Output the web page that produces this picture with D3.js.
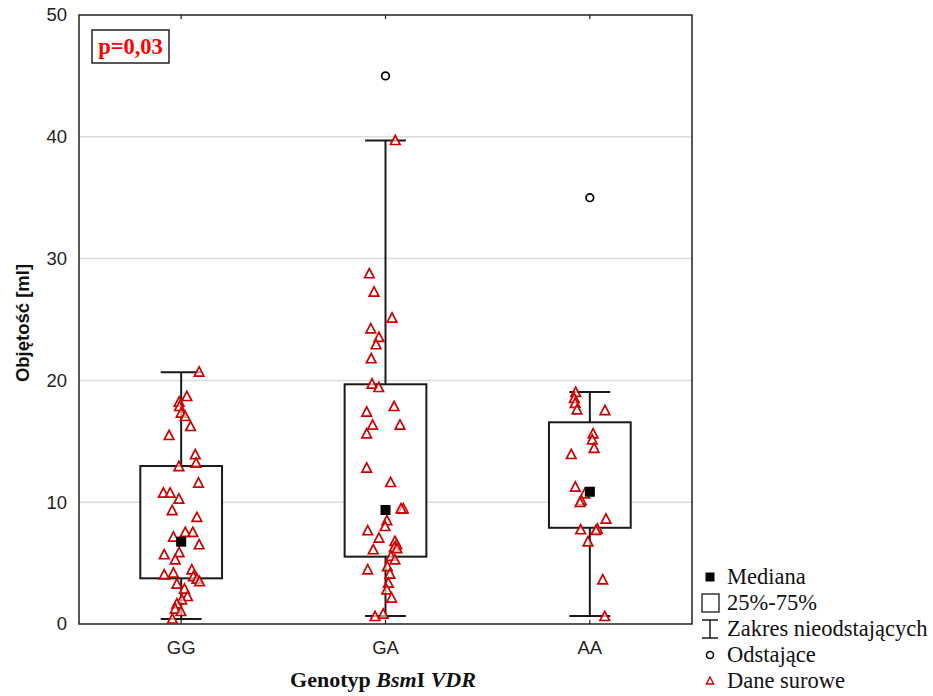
<!DOCTYPE html>
<html>
<head>
<meta charset="utf-8">
<script src="https://cdn.jsdelivr.net/npm/d3@7"></script>
<style>
  html, body { margin: 0; padding: 0; background: #fff; }
  svg { display: block; }
</style>
</head>
<body>
<svg id="chart" width="933" height="696"></svg>
<script>
// Genotype groups
const categories = ["GG", "GA", "AA"];

// Box statistics per genotype (volume, ml)
const whiskerLow  = [0.41, 0.66, 0.66];
const q1          = [3.75, 5.53, 7.90];
const medians     = [6.76, 9.36, 10.86];
const q3          = [12.97, 19.68, 16.56];
const whiskerHigh = [20.67, 39.70, 19.05];
const outliers    = [[], [45.0], [35.0]];

// Raw observations per genotype
const rawGG = [20.66, 18.66, 18.2, 17.84, 17.3, 17.02, 16.2, 15.46, 13.88, 13.19, 12.91, 11.55,
  10.73, 10.73, 10.24, 9.30, 8.73, 7.5, 7.5, 7.12, 6.49, 5.85, 5.67, 5.25, 4.43, 4.16, 4.02,
  3.88, 3.67, 3.47, 3.26, 2.85, 2.24, 1.97, 1.64, 1.21, 1.01, 0.39];
const rawGA = [39.68, 28.74, 27.23, 25.1, 24.22, 23.51, 22.91, 21.76, 19.68, 19.4, 17.84, 17.38,
  16.31, 16.31, 15.6, 12.78, 11.6, 9.44, 9.44, 8.46, 7.99, 7.64, 7.04, 6.76, 6.49, 6.26, 6.16,
  6.08, 5.53, 5.25, 4.7, 4.43, 4.08, 3.34, 2.79, 2.11, 0.8, 0.6];
const rawAA = [19.0, 18.5, 18.1, 17.57, 17.51, 15.6, 15.1, 14.4, 13.9, 11.22, 10.67, 10.12,
  9.96, 8.6, 7.72, 7.77, 7.66, 6.73, 3.61, 0.6];

// Horizontal jitter of each raw point, as a fraction of the category band
const jitterGG = [0.088, 0.028, -0.010, -0.008, 0.000, 0.020, 0.046, -0.059, 0.069, 0.073, -0.011, 0.085,
  -0.087, -0.054, -0.011, -0.044, 0.077, 0.020, 0.057, -0.038, 0.088, -0.010, -0.083, -0.029, 0.052, -0.038, -0.083,
  0.060, 0.077, 0.090, -0.021, 0.016, 0.031, 0.003, -0.021, -0.029, -0.001, -0.043];
const jitterGA = [0.048, -0.079, -0.056, 0.032, -0.072, -0.032, -0.046, -0.070, -0.066, -0.033, 0.042, -0.092,
  -0.063, 0.071, -0.092, -0.092, 0.025, 0.087, 0.076, 0.007, -0.002, -0.087, -0.032, 0.046, 0.055, 0.043, 0.056,
  -0.060, 0.027, 0.046, 0.009, -0.087, 0.022, 0.014, 0.006, 0.030, -0.011, -0.051];
const jitterAA = [-0.069, -0.076, -0.072, -0.063, 0.074, 0.016, 0.012, 0.021, -0.091, -0.071, -0.025, -0.042,
  -0.048, 0.079, -0.045, 0.037, 0.030, -0.009, 0.063, 0.073];

const rawValues = [rawGG, rawGA, rawAA];
const rawJitter = [jitterGG, jitterGA, jitterAA];

const yTicks = [0, 10, 20, 30, 40, 50];
const pLabel = "p=0,03";
const legendLabels = ["Mediana", "25%-75%", "Zakres nieodstających", "Odstające", "Dane surowe"];

// ---- layout ----
const svg = d3.select("#chart");
const plot = { left: 79, top: 15, right: 692, bottom: 624 };
const red = "#cc0000";
const ink = "#1a1a1a";

const x = d3.scaleBand().domain(categories).range([plot.left, plot.right]).padding(0);
const y = d3.scaleLinear().domain([0, 50]).range([plot.bottom, plot.top]);
const bw = x.bandwidth();
const cx = c => x(c) + bw / 2;

const boxHalf = bw * 0.2;
const capHalf = bw * 0.1;

// gridlines
svg.append("g")
  .selectAll("line")
  .data(yTicks.filter(t => t > 0 && t < 50))
  .join("line")
  .attr("x1", plot.left).attr("x2", plot.right)
  .attr("y1", d => y(d)).attr("y2", d => y(d))
  .attr("stroke", "#dcdcdc").attr("stroke-width", 1.5);

// y axis labels (no outer ticks)
const yAxis = d3.axisLeft(y).tickValues(yTicks).tickSize(0).tickPadding(12);
svg.append("g")
  .attr("transform", `translate(${plot.left},0)`)
  .call(yAxis)
  .call(g => g.select(".domain").remove())
  .call(g => g.selectAll("text")
    .attr("font-family", "'Liberation Sans', Arial, sans-serif")
    .attr("font-size", 18.5).attr("fill", "#222"));

// x axis labels with inner ticks at bottom and top
const xAxis = d3.axisBottom(x).tickSize(-4).tickPadding(17);
svg.append("g")
  .attr("transform", `translate(0,${plot.bottom})`)
  .call(xAxis)
  .call(g => g.select(".domain").remove())
  .call(g => g.selectAll("line").attr("stroke", ink).attr("stroke-width", 1.2))
  .call(g => g.selectAll("text")
    .attr("font-family", "'Liberation Sans', Arial, sans-serif")
    .attr("font-size", 18.5).attr("fill", "#222"));
svg.append("g")
  .attr("transform", `translate(0,${plot.top})`)
  .call(d3.axisTop(x).tickSize(-4).tickFormat(""))
  .call(g => g.select(".domain").remove())
  .call(g => g.selectAll("line").attr("stroke", ink).attr("stroke-width", 1.2));

// plot frame
svg.append("rect")
  .attr("x", plot.left).attr("y", plot.top)
  .attr("width", plot.right - plot.left).attr("height", plot.bottom - plot.top)
  .attr("fill", "none").attr("stroke", "#222").attr("stroke-width", 1.5);

// whiskers and boxes
const stats = categories.map((c, i) => ({
  c, lo: whiskerLow[i], q1: q1[i], med: medians[i], q3: q3[i], hi: whiskerHigh[i], out: outliers[i]
}));
const gBox = svg.append("g");
stats.forEach(s => {
  const xc = cx(s.c);
  gBox.append("line").attr("x1", xc).attr("x2", xc).attr("y1", y(s.q3)).attr("y2", y(s.hi))
    .attr("stroke", ink).attr("stroke-width", 2);
  gBox.append("line").attr("x1", xc).attr("x2", xc).attr("y1", y(s.q1)).attr("y2", y(s.lo))
    .attr("stroke", ink).attr("stroke-width", 2);
  gBox.append("line").attr("x1", xc - capHalf).attr("x2", xc + capHalf).attr("y1", y(s.hi)).attr("y2", y(s.hi))
    .attr("stroke", ink).attr("stroke-width", 2);
  gBox.append("line").attr("x1", xc - capHalf).attr("x2", xc + capHalf).attr("y1", y(s.lo)).attr("y2", y(s.lo))
    .attr("stroke", ink).attr("stroke-width", 2);
  gBox.append("rect")
    .attr("x", xc - boxHalf).attr("width", boxHalf * 2)
    .attr("y", y(s.q3)).attr("height", y(s.q1) - y(s.q3))
    .attr("fill", "#fff").attr("stroke", ink).attr("stroke-width", 2);
});

// raw points as hollow red triangles
const triPath = "M0,-5.4L4.8,3.8L-4.8,3.8Z";
const raw = [];
categories.forEach((c, i) => rawValues[i].forEach((v, j) => raw.push({ c, v, j: rawJitter[i][j] })));
svg.append("g")
  .selectAll("path")
  .data(raw)
  .join("path")
  .attr("d", triPath)
  .attr("transform", d => `translate(${cx(d.c) + d.j * bw},${y(d.v)})`)
  .attr("fill", "#fff").attr("fill-opacity", 0.6)
  .attr("stroke", red).attr("stroke-width", 1.7);

// medians
svg.append("g")
  .selectAll("rect")
  .data(stats)
  .join("rect")
  .attr("x", d => cx(d.c) - 5).attr("y", d => y(d.med) - 5)
  .attr("width", 10).attr("height", 10)
  .attr("fill", "#000");

// outliers
svg.append("g")
  .selectAll("circle")
  .data(stats.flatMap(s => s.out.map(v => ({ c: s.c, v }))))
  .join("circle")
  .attr("cx", d => cx(d.c)).attr("cy", d => y(d.v)).attr("r", 3.8)
  .attr("fill", "#fff").attr("stroke", "#000").attr("stroke-width", 1.7);

// p-value box
svg.append("rect")
  .attr("x", 92).attr("y", 30).attr("width", 77).attr("height", 33)
  .attr("fill", "#fff").attr("stroke", "#222").attr("stroke-width", 1.5);
svg.append("text")
  .attr("x", 130.5).attr("y", 54)
  .attr("text-anchor", "middle")
  .attr("font-family", "'Liberation Serif', 'Times New Roman', serif")
  .attr("font-weight", "bold").attr("font-size", 22.5)
  .attr("fill", "#ff0000")
  .text(pLabel);

// axis titles
svg.append("text")
  .attr("transform", "translate(22,323) rotate(-90)")
  .attr("text-anchor", "middle").attr("dominant-baseline", "central")
  .attr("font-family", "'Liberation Sans', Arial, sans-serif")
  .attr("font-weight", "bold").attr("font-size", 18.5).attr("fill", "#111")
  .text("Objętość [ml]");

const xTitle = svg.append("text")
  .attr("x", 383).attr("y", 687)
  .attr("text-anchor", "middle")
  .attr("font-family", "'Liberation Serif', 'Times New Roman', serif")
  .attr("font-weight", "bold").attr("font-size", 22).attr("fill", "#111");
xTitle.append("tspan").text("Genotyp ");
xTitle.append("tspan").attr("font-style", "italic").text("Bsm");
xTitle.append("tspan").text("I ");
xTitle.append("tspan").attr("font-style", "italic").text("VDR");

// legend
const lg = svg.append("g").attr("font-family", "'Liberation Serif', 'Times New Roman', serif")
  .attr("font-size", 22.5).attr("fill", "#111");
const lgX = 710, lgTextX = 727, lgY0 = 577, lgStep = 26;
legendLabels.forEach((t, i) => {
  lg.append("text").attr("x", lgTextX).attr("y", lgY0 + i * lgStep + 7).text(t);
});
// Mediana
lg.append("rect").attr("x", lgX - 4.5).attr("y", lgY0 - 4.5).attr("width", 9).attr("height", 9).attr("fill", "#000");
// 25%-75%
lg.append("rect").attr("x", lgX - 8).attr("y", lgY0 + lgStep - 9).attr("width", 17).attr("height", 18)
  .attr("fill", "#fff").attr("stroke", ink).attr("stroke-width", 1.3);
// Zakres nieodstających
{
  const yc = lgY0 + 2 * lgStep;
  lg.append("line").attr("x1", lgX).attr("x2", lgX).attr("y1", yc - 9).attr("y2", yc + 9).attr("stroke", ink).attr("stroke-width", 1.5);
  lg.append("line").attr("x1", lgX - 8).attr("x2", lgX + 8).attr("y1", yc - 9).attr("y2", yc - 9).attr("stroke", ink).attr("stroke-width", 1.5);
  lg.append("line").attr("x1", lgX - 8).attr("x2", lgX + 8).attr("y1", yc + 9).attr("y2", yc + 9).attr("stroke", ink).attr("stroke-width", 1.5);
}
// Odstające
lg.append("circle").attr("cx", lgX).attr("cy", lgY0 + 3 * lgStep).attr("r", 3.5)
  .attr("fill", "#fff").attr("stroke", "#000").attr("stroke-width", 1.5);
// Dane surowe
lg.append("path").attr("d", "M0,-4L3.6,3L-3.6,3Z")
  .attr("transform", `translate(${lgX},${lgY0 + 4 * lgStep})`)
  .attr("fill", "#fff").attr("stroke", red).attr("stroke-width", 1.4);
</script>
</body>
</html>
